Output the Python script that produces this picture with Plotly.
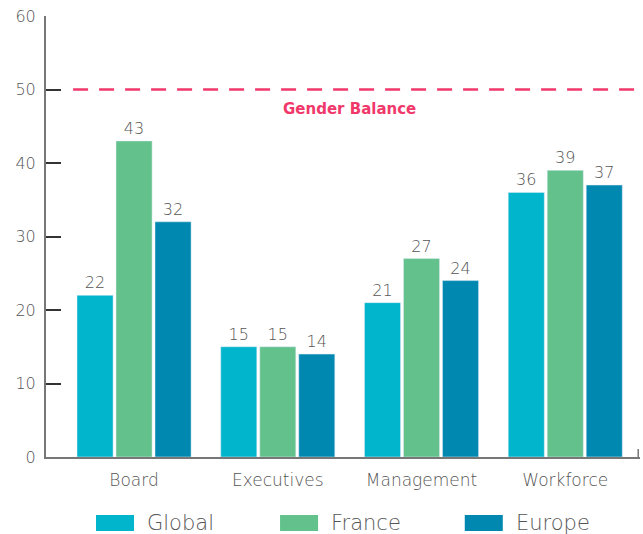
import plotly.graph_objects as go

categories = ["Board", "Executives", "Management", "Workforce"]
global_vals = [22, 15, 21, 36]
france_vals = [43, 15, 27, 39]
europe_vals = [32, 14, 24, 37]
series_names = ["Global", "France", "Europe"]
colors = ["#00b5cc", "#63c28c", "#0088b0"]

grey = "#555555"
pink = "#f0386b"
font_family = "DejaVu Sans, sans-serif"

fig = go.Figure()
for name, vals, col in zip(series_names, [global_vals, france_vals, europe_vals], colors):
    fig.add_trace(go.Bar(
        x=categories, y=vals, name=name, marker_color=col,
        text=[str(v) for v in vals], textposition="outside",
        textfont=dict(size=16, color=grey, family=font_family, weight=200),
        cliponaxis=False, showlegend=False,
    ))

# linea de paridad
fig.add_shape(type="line", xref="x", yref="y", x0=-0.424, x1=3.52, y0=50, y1=50,
              line=dict(color=pink, width=2.5, dash="15px,11px"))
fig.add_annotation(xref="paper", yref="y", x=0.511, y=50, yshift=-19, showarrow=False,
                   text="<b>Gender Balance</b>",
                   font=dict(size=15, color=pink, family=font_family))

# pequeño tick al final del eje x
fig.add_shape(type="line", xref="paper", yref="paper", x0=0.997, x1=0.997, y0=0, y1=0.018,
              line=dict(color="#777777", width=1.5))

# leyenda hecha a mano
legend_x = [0.0842, 0.394, 0.705]
for name, col, lx in zip(series_names, colors, legend_x):
    fig.add_shape(type="rect", xref="paper", yref="paper",
                  x0=lx, x1=lx + 0.064, y0=-0.168, y1=-0.1315,
                  fillcolor=col, line=dict(width=0))
    fig.add_annotation(xref="paper", yref="paper", x=lx + 0.083, y=-0.150,
                       xanchor="left", yanchor="middle", showarrow=False,
                       text=name, font=dict(size=21, color=grey, family=font_family, weight=200))

fig.update_layout(
    width=643, height=534,
    margin=dict(l=46, r=3, t=16, b=77),
    plot_bgcolor="white", paper_bgcolor="white",
    barmode="group", bargap=0.186, bargroupgap=0.075,
    font=dict(family=font_family, color=grey, size=15, weight=200),
    xaxis=dict(range=[-0.6125, 3.52], showline=True, linecolor="#777777", linewidth=2,
               ticks="", tickfont=dict(size=17, color=grey, weight=200), ticklabelstandoff=7),
    yaxis=dict(range=[0, 60], dtick=10, showline=True, linecolor="#777777", linewidth=2,
               ticks="inside", ticklen=15, tickcolor="#333333", tickwidth=1.5,
               showgrid=False, zeroline=False, tickfont=dict(size=16, color=grey, weight=200),
               ticklabelstandoff=5),
)

fig.write_html("out.html", config={"displayModeBar": False},
               post_script="document.body.style.margin='0';")
